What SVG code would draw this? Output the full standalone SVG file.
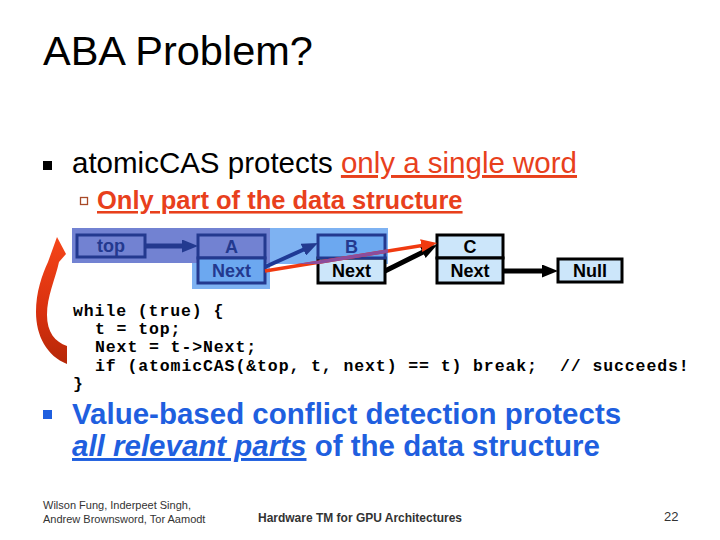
<svg xmlns="http://www.w3.org/2000/svg" width="720" height="540" viewBox="0 0 720 540">
<style>
  .sans { font-family: "Liberation Sans", Arial, sans-serif; }
  .mono { font-family: "Liberation Mono", "Courier New", monospace; font-weight: bold; font-size: 16.5px; letter-spacing: 0.9px; fill: #000; }
  .nodetxt { font-family: "Liberation Sans", Arial, sans-serif; font-weight: bold; font-size: 18px; text-anchor: middle; }
  .foot { font-family: "Liberation Sans", Arial, sans-serif; fill: #333; }
</style>
<defs>
  <marker id="hNavy" markerUnits="userSpaceOnUse" viewBox="0 0 16 13" markerWidth="16" markerHeight="13" refX="4" refY="6.5" orient="auto"><path d="M0,0 L16,6.5 L0,13 z" fill="#233a90"/></marker>
  <marker id="hBlack" markerUnits="userSpaceOnUse" viewBox="0 0 16 13" markerWidth="16" markerHeight="13" refX="4" refY="6.5" orient="auto"><path d="M0,0 L16,6.5 L0,13 z" fill="#000"/></marker>
  <marker id="hRed" markerUnits="userSpaceOnUse" viewBox="0 0 16 13" markerWidth="16" markerHeight="13" refX="4" refY="6.5" orient="auto"><path d="M0,0 L16,6.5 L0,13 z" fill="#f03a10"/></marker>
  <linearGradient id="curveGrad" x1="0" y1="0" x2="0" y2="1">
    <stop offset="0" stop-color="#f5461a"/>
    <stop offset="0.6" stop-color="#d8300e"/>
    <stop offset="1" stop-color="#b52808"/>
  </linearGradient>
  <clipPath id="bandClip"><rect x="270" y="228" width="118" height="36"/></clipPath>
</defs>

<rect width="720" height="540" fill="#fff"/>

<!-- Title -->
<text class="sans" x="43" y="65" font-size="41.5" fill="#000">ABA Problem?</text>

<!-- Bullet 1 -->
<rect x="43" y="161" width="9" height="9" fill="#000"/>
<text class="sans" x="72" y="173" font-size="29.5" fill="#000">atomicCAS protects <tspan fill="#e8401c" text-decoration="underline">only a single word</tspan></text>
<rect x="80.5" y="197.5" width="7" height="7" fill="none" stroke="#a84a28" stroke-width="1.3"/>
<text class="sans" x="97" y="209" font-size="25.5" font-weight="bold" fill="#e8401c" text-decoration="underline">Only part of the data structure</text>

<!-- highlight bands -->
<g id="bands">
  <rect x="72" y="228" width="198" height="35" fill="#7282d2"/>
  <rect x="270" y="228" width="118" height="36" fill="#7eb2f2"/>
  <rect x="192" y="263" width="78" height="26" fill="#7eb2f2"/>
</g>

<!-- Nodes -->
<g id="node-top">
  <rect x="77" y="235" width="68" height="22" fill="none" stroke="#23398f" stroke-width="3"/>
  <text class="nodetxt" x="111" y="252" fill="#23398f">top</text>
</g>
<g id="node-A">
  <rect x="198" y="235" width="67" height="23" fill="none" stroke="#23398f" stroke-width="3"/>
  <rect x="198" y="258" width="67" height="25" fill="#6ca8f0" stroke="#23398f" stroke-width="3"/>
  <text class="nodetxt" x="231.5" y="253" fill="#23398f">A</text>
  <text class="nodetxt" x="231.5" y="277" fill="#23398f">Next</text>
</g>
<g id="node-B">
  <rect x="318" y="258" width="67" height="25" fill="#cce6fa" stroke="#000" stroke-width="3"/>
  <rect x="318" y="235" width="67" height="23" fill="#6ca8f0" stroke="#23398f" stroke-width="3"/>
  <text class="nodetxt" x="351.5" y="253" fill="#23398f">B</text>
  <text class="nodetxt" x="351.5" y="277" fill="#000">Next</text>
</g>
<g id="node-C">
  <rect x="437" y="235" width="66" height="23" fill="#cce6fa" stroke="#000" stroke-width="3"/>
  <rect x="437" y="258" width="66" height="25" fill="#cce6fa" stroke="#000" stroke-width="3"/>
  <text class="nodetxt" x="470" y="253" fill="#000">C</text>
  <text class="nodetxt" x="470" y="277" fill="#000">Next</text>
</g>
<g id="node-null">
  <rect x="558" y="259" width="64" height="23" fill="#cce6fa" stroke="#000" stroke-width="3"/>
  <text class="nodetxt" x="590" y="277" fill="#000">Null</text>
</g>

<!-- Connectors -->
<g id="connectors">
  <line x1="145" y1="246" x2="186" y2="246" stroke="#23398f" stroke-width="5" marker-end="url(#hNavy)"/>
  <line x1="265" y1="267" x2="307" y2="248" stroke="#1f3a96" stroke-width="4" marker-end="url(#hNavy)"/>
  <line x1="385" y1="271" x2="426.3" y2="250.4" stroke="#000" stroke-width="5" marker-end="url(#hBlack)"/>
  <line x1="503" y1="271" x2="546" y2="271" stroke="#000" stroke-width="5" marker-end="url(#hBlack)"/>
  <line x1="265" y1="271" x2="425.2" y2="244.9" stroke="#f03a10" stroke-width="3.5" marker-end="url(#hRed)"/>
  <line x1="265" y1="271" x2="425.2" y2="244.9" stroke="#8c4c9c" stroke-width="3.5" clip-path="url(#bandClip)"/>
  <path d="M57,237 L66,254 L59,262 C55,280 47,296 47,315 C47,332 55,342 67,346 L67,364 C47,356 36,336 36,312 C36,292 42,275 48,262 Z" fill="url(#curveGrad)"/>
</g>

<!-- Code -->
<text class="mono" x="73" y="316">while (true) {</text>
<text class="mono" x="95" y="334">t = top;</text>
<text class="mono" x="95" y="352">Next = t-&gt;Next;</text>
<text class="mono" x="95" y="371">if (atomicCAS(&amp;top, t, next) == t) break;</text>
<text class="mono" x="560" y="371">// succeeds!</text>
<text class="mono" x="73" y="389">}</text>

<!-- Bullet 2 -->
<rect x="43" y="410" width="9" height="9" fill="#1f5fdf"/>
<text class="sans" x="72" y="424" font-size="29.5" font-weight="bold" fill="#1f5fdf">Value-based conflict detection protects</text>
<text class="sans" x="72" y="456" font-size="29.5" font-weight="bold" fill="#1f5fdf"><tspan font-style="italic" text-decoration="underline">all relevant parts</tspan> of the data structure</text>

<!-- Footer -->
<text class="foot" x="43" y="509" font-size="11">Wilson Fung, Inderpeet Singh,</text>
<text class="foot" x="43" y="523" font-size="11">Andrew Brownsword, Tor Aamodt</text>
<text class="foot" x="258" y="522" font-size="13" font-weight="bold" textLength="204" lengthAdjust="spacingAndGlyphs">Hardware TM for GPU Architectures</text>
<text class="foot" x="664" y="521" font-size="13">22</text>
</svg>
